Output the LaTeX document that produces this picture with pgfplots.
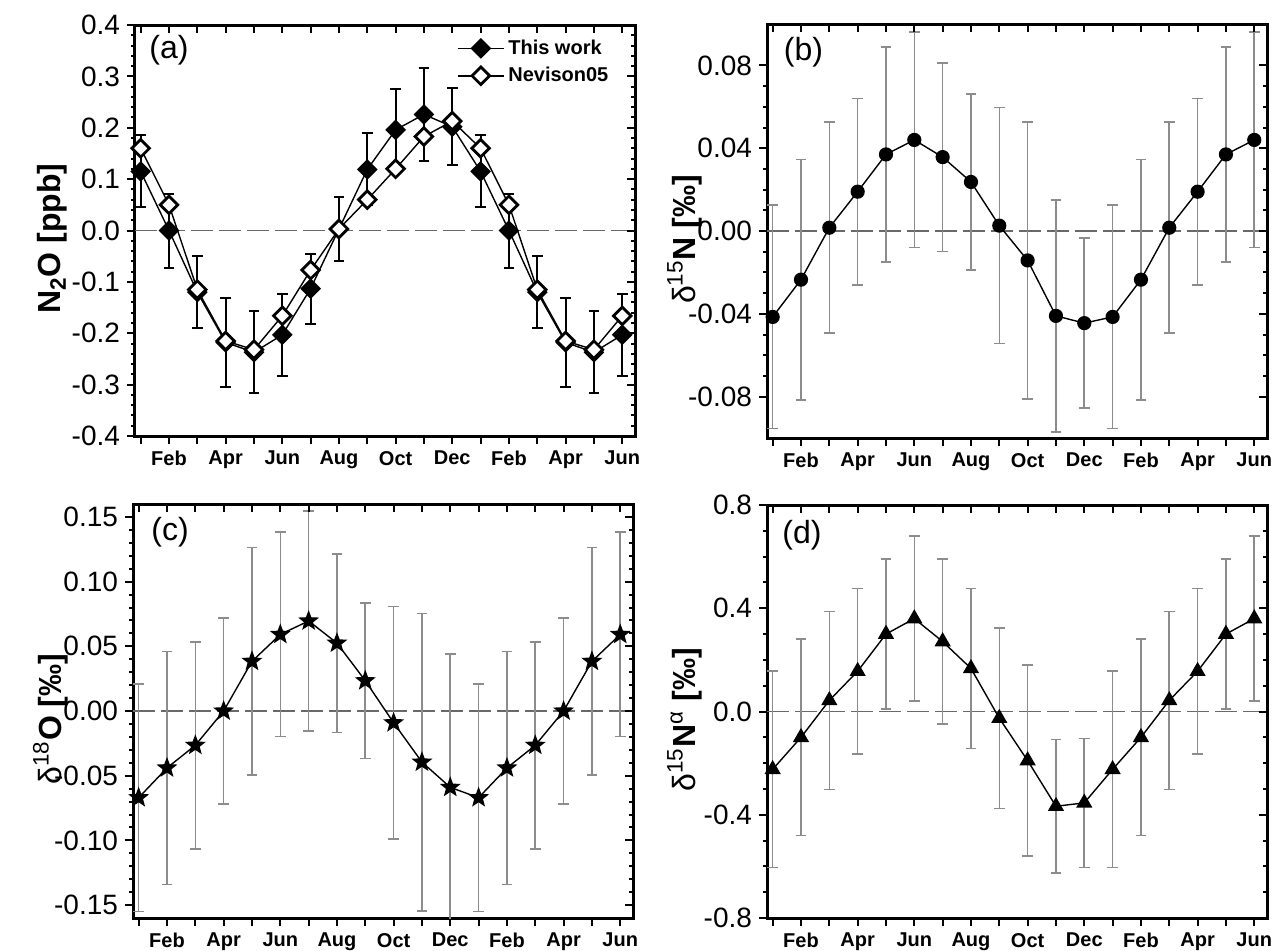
\documentclass[border=0pt]{standalone}
\usepackage{fontspec}
\setmainfont{Liberation Sans}
\usepackage{pgfplots}
\usepackage{pgfplotstable}
\pgfplotsset{compat=1.18}

\definecolor{ebgray}{RGB}{140,140,140}
\definecolor{zgray}{RGB}{105,105,105}

\pgfdeclareplotmark{fstar}{%
  \pgfpathmoveto{\pgfpointpolar{90}{\pgfplotmarksize}}%
  \pgfpathlineto{\pgfpointpolar{126}{0.42\pgfplotmarksize}}%
  \pgfpathlineto{\pgfpointpolar{162}{\pgfplotmarksize}}%
  \pgfpathlineto{\pgfpointpolar{198}{0.42\pgfplotmarksize}}%
  \pgfpathlineto{\pgfpointpolar{234}{\pgfplotmarksize}}%
  \pgfpathlineto{\pgfpointpolar{270}{0.42\pgfplotmarksize}}%
  \pgfpathlineto{\pgfpointpolar{306}{\pgfplotmarksize}}%
  \pgfpathlineto{\pgfpointpolar{342}{0.42\pgfplotmarksize}}%
  \pgfpathlineto{\pgfpointpolar{18}{\pgfplotmarksize}}%
  \pgfpathlineto{\pgfpointpolar{54}{0.42\pgfplotmarksize}}%
  \pgfpathclose\pgfusepathqfillstroke}

\pgfplotstableread{
x  tw      twe    nev
1  0.115   0.070  0.160
2  0.000   0.072  0.050
3  -0.120  0.070  -0.115
4  -0.218  0.087  -0.215
5  -0.237  0.080  -0.232
6  -0.203  0.080  -0.166
7  -0.113  0.068  -0.077
8  0.003   0.062  0.003
9  0.119   0.070  0.060
10 0.196   0.080  0.120
11 0.226   0.090  0.183
12 0.202   0.075  0.213
13 0.115   0.070  0.160
14 0.000   0.072  0.050
15 -0.120  0.070  -0.115
16 -0.218  0.087  -0.215
17 -0.237  0.080  -0.232
18 -0.203  0.080  -0.166
}\taba

\pgfplotstableread{
x  y        e
1  -0.0415  0.054
2  -0.0235  0.058
3  0.0016   0.051
4  0.0190   0.045
5  0.0370   0.052
6  0.0440   0.052
7  0.0357   0.0455
8  0.0237   0.0425
9  0.0026   0.057
10 -0.0142  0.067
11 -0.0410  0.056
12 -0.0445  0.041
13 -0.0415  0.054
14 -0.0235  0.058
15 0.0016   0.051
16 0.0190   0.045
17 0.0370   0.052
18 0.0440   0.052
}\tabb

\pgfplotstableread{
x  y        e
1  -0.0670  0.088
2  -0.0440  0.090
3  -0.0265  0.080
4  0.0000   0.072
5  0.0384   0.088
6  0.0592   0.079
7  0.0696   0.085
8  0.0525   0.069
9  0.0234   0.060
10 -0.0091  0.090
11 -0.0395  0.115
12 -0.0590  0.103
13 -0.0670  0.088
14 -0.0440  0.090
15 -0.0265  0.080
16 0.0000   0.072
17 0.0384   0.088
18 0.0592   0.079
}\tabc

\pgfplotstableread{
x  y       e
1  -0.224  0.380
2  -0.100  0.380
3  0.043   0.345
4  0.156   0.320
5  0.300   0.290
6  0.360   0.320
7  0.271   0.320
8  0.167   0.310
9  -0.026  0.350
10 -0.190  0.370
11 -0.367  0.258
12 -0.354  0.250
13 -0.224  0.380
14 -0.100  0.380
15 0.043   0.345
16 0.156   0.320
17 0.300   0.290
18 0.360   0.320
}\tabd

\pgfplotsset{
  base/.style={scale only axis, width=250pt, xmin=0.8, xmax=18.45,
    xtick={1,...,18}, /pgf/number format/assume math mode=true},
  panel/.style={base,
    xticklabels={,Feb,,Apr,,Jun,,Aug,,Oct,,Dec,,Feb,,Apr,,Jun},
    xtick pos=left, ytick pos=left, tick align=outside,
    x tick label style={font=\bfseries\fontsize{10}{12}\selectfont},
    y tick label style={font=\fontsize{14}{16}\selectfont},
    axis line style={line width=1.5pt},
    major tick length=4pt, minor tick length=2pt,
    every tick/.append style={line width=1pt, black},
    ylabel style={font=\fontsize{16}{19}\selectfont, at={(axis description cs:-0.165,0.48)}, anchor=center},
  },
  frameticks/.style={base, xticklabels={}, yticklabels={},
    xtick pos=right, ytick pos=right, tick align=inside,
    axis line style={draw=none},
    major tick length=4pt, minor tick length=2pt,
    every tick/.append style={line width=1pt, black}},
  zline/.style={zgray, line width=0.9pt, dash pattern=on 11pt off 3pt, forget plot},
  pdata/.style={black, line width=0.7pt, mark options={solid, black, fill=black}},
  ebars/.style={error bars/.cd, y dir=both, y explicit,
    error bar style={ebgray, line width=0.8pt},
    error mark options={rotate=90, ebgray, mark size=2.7pt, line width=0.8pt}},
}
\tikzset{plabel/.style={anchor=north west, inner sep=0pt, font=\fontsize{16}{19}\selectfont}}

\begin{document}
\begin{tikzpicture}
\path[use as bounding box] (0,0) rectangle (638pt,-475pt);

% ---------------- (a)
\begin{axis}[panel, at={(67.5pt,-218pt)}, anchor=south west, height=205.5pt,
  ymin=-0.4, ymax=0.4, ytick={-0.4,-0.3,...,0.4}, minor y tick num=4,
  yticklabel style={/pgf/number format/.cd, fixed, fixed zerofill, precision=1},
  ylabel={\bfseries N\textsubscript{2}O [ppb]},
  legend style={at={(0.632,0.985)}, anchor=north west, draw=none, fill=none,
    font=\bfseries\fontsize{10}{12}\selectfont, row sep=1pt},
  legend cell align=left,
  legend image code/.code={\draw[mark repeat=2,mark phase=2,#1] plot coordinates {(0cm,0cm) (0.4cm,0cm) (0.8cm,0cm)};}]
\addplot[zline] coordinates {(0.8,0) (18.45,0)};
\addplot[black, line width=0.7pt, mark=square*, mark size=3.3pt,
  mark options={solid, rotate=45, fill=black},
  error bars/.cd, y dir=both, y explicit,
  error bar style={black, line width=1pt},
  error mark options={rotate=90, black, mark size=2.7pt, line width=1pt}]
  table[x=x, y=tw, y error=twe] {\taba};
\addlegendentry{This work}
\addplot[black, line width=0.7pt, mark=square*, mark size=3.1pt,
  mark options={solid, rotate=45, fill=white, line width=1.4pt}]
  table[x=x, y=nev] {\taba};
\addlegendentry{Nevison05}
\node[plabel] at (rel axis cs:0.028,0.975) {(a)};
\end{axis}
\begin{axis}[frameticks, at={(67.5pt,-218pt)}, anchor=south west, height=205.5pt,
  ymin=-0.4, ymax=0.4, ytick={-0.4,-0.3,...,0.4}, minor y tick num=4]
\end{axis}

% ---------------- (b)
\begin{axis}[panel, at={(383.5pt,-219pt)}, anchor=south west, height=207pt,
  ymin=-0.1, ymax=0.1, ytick={-0.08,-0.04,0,0.04,0.08}, minor y tick num=3,
  yticklabel style={/pgf/number format/.cd, fixed, fixed zerofill, precision=2},
  ylabel={δ\textsuperscript{15}\textbf{N [‰]}}]
\addplot[zline] coordinates {(0.8,0) (18.45,0)};
\addplot[pdata, mark=*, mark size=3.2pt, ebars] table[x=x, y=y, y error=e] {\tabb};
\node[plabel] at (rel axis cs:0.033,0.97) {(b)};
\end{axis}
\begin{axis}[frameticks, at={(383.5pt,-219pt)}, anchor=south west, height=207pt,
  ymin=-0.1, ymax=0.1, ytick={-0.08,-0.04,0,0.04,0.08}, minor y tick num=3]
\end{axis}

% ---------------- (c)
\begin{axis}[panel, at={(66.5pt,-459pt)}, anchor=south west, height=207pt,
  ymin=-0.16, ymax=0.16, ytick={-0.15,-0.1,...,0.15}, minor y tick num=4,
  yticklabel style={/pgf/number format/.cd, fixed, fixed zerofill, precision=2},
  ylabel={δ\textsuperscript{18}\textbf{O [‰]}}]
\addplot[zline] coordinates {(0.8,0) (18.45,0)};
\addplot[pdata, mark=fstar, mark size=4.5pt, ebars] table[x=x, y=y, y error=e] {\tabc};
\node[plabel] at (rel axis cs:0.036,0.97) {(c)};
\end{axis}
\begin{axis}[frameticks, at={(66.5pt,-459pt)}, anchor=south west, height=207pt,
  ymin=-0.16, ymax=0.16, ytick={-0.15,-0.1,...,0.15}, minor y tick num=4]
\end{axis}

% ---------------- (d)
\begin{axis}[panel, at={(383.5pt,-459pt)}, anchor=south west, height=206.5pt,
  ymin=-0.8, ymax=0.8, ytick={-0.8,-0.4,0,0.4,0.8}, minor y tick num=3,
  yticklabel style={/pgf/number format/.cd, fixed, fixed zerofill, precision=1},
  ylabel={δ\textsuperscript{15}\textbf{N}\textsuperscript{α} \textbf{[‰]}}]
\addplot[zline] coordinates {(0.8,0) (18.45,0)};
\addplot[pdata, mark=triangle*, mark size=4pt, ebars] table[x=x, y=y, y error=e] {\tabd};
\node[plabel] at (rel axis cs:0.03,0.965) {(d)};
\end{axis}
\begin{axis}[frameticks, at={(383.5pt,-459pt)}, anchor=south west, height=206.5pt,
  ymin=-0.8, ymax=0.8, ytick={-0.8,-0.4,0,0.4,0.8}, minor y tick num=3]
\end{axis}
\end{tikzpicture}
\end{document}
